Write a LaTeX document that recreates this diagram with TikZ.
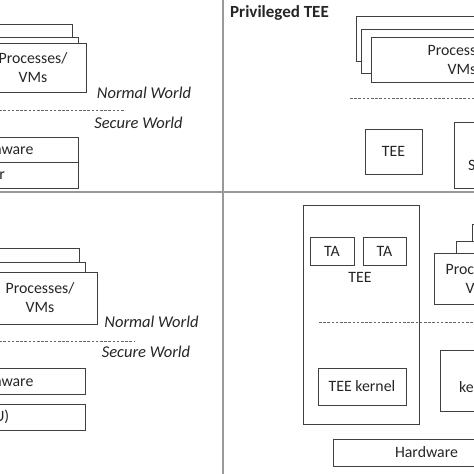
\documentclass[tikz,border=0pt]{standalone}
\usepackage{fontspec}
\setmainfont{Carlito}
\begin{document}
\begin{tikzpicture}[
  x=1pt, y=-1pt,
  every node/.style={font=\fontsize{15.8}{19}\selectfont, text=black!85, inner sep=0pt, align=center},
  box/.style={draw=black!75, line width=1pt, fill=white},
  sz/.style 2 args={minimum width=#1pt, minimum height=#2pt},
  world/.style={font=\fontsize{16.5}{19}\selectfont\itshape},
  divider/.style={draw=black!40, line width=1.6pt},
  worldsep/.style={draw=black!60, line width=0.6pt, dash pattern=on 2.6pt off 1.6pt}
]
  \useasboundingbox (0,0) rectangle (474,474);
  \fill[white] (0,0) rectangle (474,474);
  \clip (0,0) rectangle (474,474);
  % quadrants
  \draw[divider] (223,0) -- (223,474);
  \draw[divider] (0,192) -- (474,192);

  % top left
  \node[box, sz={112}{46}] (tlvmA) at (16,47) {};
  \node[box, sz={108}{45}] (tlvmB) at (24,59.5) {};
  \node[box, sz={106}{49}] (tlvm) at (33,67.5) {Processes/\\VMs};
  \node[world] (tlnw) at (144,93) {Normal World};
  \node[world] (tlsw) at (138.5,123) {Secure World};
  \coordinate (tlsepA) at (-5,110); \coordinate (tlsepB) at (125,110);
  \draw[worldsep] (tlsepA) -- (tlsepB);
  \node[box, sz={150}{25}] (tlfw) at (3,149.5) {Firmware};
  \node[box, sz={216}{26}] (tlhv) at (-30,175) {Hypervisor};

  % top right
  \node[font=\fontsize{17}{20}\selectfont\bfseries, anchor=base west] (title) at (230,17) {Privileged TEE};
  \node[box, sz={204}{45}] (trvmA) at (458,38.5) {};
  \node[box, sz={199}{44}] (trvmB) at (460.5,51) {};
  \node[box, sz={182}{45}] (trvm) at (462,59.5) {Processes/\\VMs};
  \coordinate (trsepA) at (350,98); \coordinate (trsepB) at (480,98);
  \draw[worldsep] (trsepA) -- (trsepB);
  \node[box, sz={57}{45}] (trtee) at (393.5,151.5) {TEE};
  \node[box, sz={86}{66}] (trsec) at (497,155) {};
  \node[anchor=west] (trsectxt) at (468,165) {Secure};

  % bottom left
  \node[box, sz={119}{42}] (blvmA) at (19.5,269) {};
  \node[box, sz={115}{38}] (blvmB) at (27.5,281) {};
  \node[box, sz={114}{52}] (blvm) at (40,298) {Processes/\\VMs};
  \node[world] (blnw) at (151.5,322) {Normal World};
  \node[world] (blsw) at (146,352) {Secure World};
  \coordinate (blsepA) at (-5,341); \coordinate (blsepB) at (135,341);
  \draw[worldsep] (blsepA) -- (blsepB);
  \node[box, sz={164}{26}] (blfw) at (3,381) {Firmware};
  \node[box, sz={193}{26}] (blmpu) at (-11.5,417) {(MPU)};

  % bottom right
  \node[box, sz={116}{219}] (brtee) at (361,314.5) {};
  \node[box, sz={44}{28}] (brtaA) at (332,251) {TA};
  \node[box, sz={43}{28}] (brtaB) at (384.5,251) {TA};
  \node (brteetxt) at (360,277) {TEE};
  \node[box, sz={88}{37}] (brkern) at (362,386.5) {TEE kernel};
  \node[box, sz={88}{56}] (brvmA) at (516,252) {};
  \node[box, sz={104}{49}] (brvmB) at (508,265.5) {};
  \node[box, sz={92}{51}] (brvm) at (480,278.5) {Processes/\\VMs};
  \coordinate (brsepA) at (319,322); \coordinate (brsepB) at (480,322);
  \draw[worldsep] (brsepA) -- (brsepB);
  \node[box, sz={80}{61}] (brk) at (480,380.5) {};
  \node[anchor=west] (brktxt) at (459,387) {kernel};
  \node[box, sz={187}{27}] (brhw) at (426.5,452.5) {Hardware};
\end{tikzpicture}
\end{document}
